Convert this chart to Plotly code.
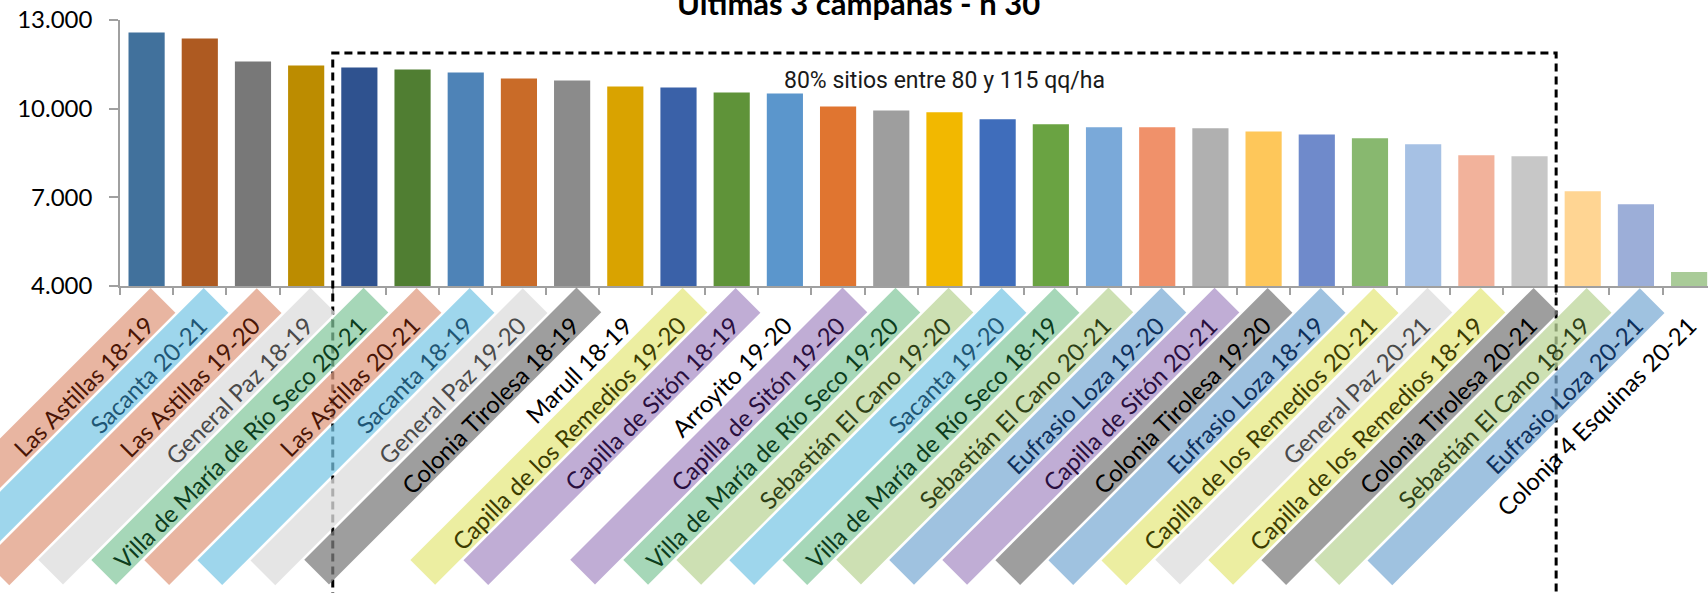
import math
import plotly.graph_objects as go

categories = [
    "Las Astillas 18-19", "Sacanta 20-21", "Las Astillas 19-20", "General Paz 18-19",
    "Villa de María de Río Seco 20-21", "Las Astillas 20-21", "Sacanta 18-19",
    "General Paz 19-20", "Colonia Tirolesa 18-19", "Marull 18-19",
    "Capilla de los Remedios 19-20", "Capilla de Sitón 18-19", "Arroyito 19-20",
    "Capilla de Sitón 19-20", "Villa de María de Río Seco 19-20", "Sebastián El Cano 19-20",
    "Sacanta 19-20", "Villa de María de Río Seco 18-19", "Sebastián El Cano 20-21",
    "Eufrasio Loza 19-20", "Capilla de Sitón 20-21", "Colonia Tirolesa 19-20",
    "Eufrasio Loza 18-19", "Capilla de los Remedios 20-21", "General Paz 20-21",
    "Capilla de los Remedios 18-19", "Colonia Tirolesa 20-21", "Sebastián El Cano 18-19",
    "Eufrasio Loza 20-21", "Colonia 4 Esquinas 20-21",
]

values = [
    12580, 12375, 11600, 11460, 11390, 11325, 11225, 11020, 10955, 10750,
    10715, 10550, 10515, 10075, 9940, 9875, 9640, 9470, 9370, 9370,
    9335, 9230, 9130, 8995, 8795, 8420, 8390, 7205, 6770, 4475,
]

bar_colors = [
    "#41719c", "#ae5a21", "#787878", "#bc8c00", "#2f528f", "#507e32", "#4e83b7",
    "#c96b28", "#8b8b8b", "#d9a300", "#3a61a8", "#5f9339", "#5b96cc", "#e07530",
    "#9e9e9e", "#f2b800", "#3f6dbb", "#6aa342", "#7aa9d9", "#f0916a", "#b0b0b0",
    "#fec75a", "#6f8acb", "#88b86f", "#a6c1e4", "#f2b29b", "#c7c7c7", "#ffd593",
    "#9caed8", "#a9cb98",
]

# label band styles per place name: (band fill, text colour)
band_styles = {
    "Las Astillas": ("rgba(224,156,130,0.75)", "#4a1505"),
    "Sacanta": ("rgba(120,198,228,0.72)", "#1f5675"),
    "General Paz": ("rgba(222,222,222,0.78)", "#4a4a4a"),
    "Villa de María de Río Seco": ("rgba(132,200,156,0.72)", "#0c3d1c"),
    "Colonia Tirolesa": ("rgba(125,125,125,0.75)", "#000000"),
    "Marull": (None, "#000000"),
    "Capilla de los Remedios": ("rgba(230,232,130,0.75)", "#3c3c00"),
    "Capilla de Sitón": ("rgba(176,152,202,0.8)", "#2a0f3f"),
    "Arroyito": (None, "#000000"),
    "Sebastián El Cano": ("rgba(188,214,154,0.75)", "#2e4016"),
    "Eufrasio Loza": ("rgba(122,170,212,0.72)", "#0d2f5c"),
    "Colonia 4 Esquinas": (None, "#000000"),
}

y_ticks = [4000, 7000, 10000, 13000]
box_top_value = 11880
box_first, box_last = 5, 27  # first and last bar (1-based) inside dashed box
x_visible_max = 29.355       # the plot runs slightly past the right edge

BAND_LEN = 385
BAND_T = 35
BAND_XSHIFT, BAND_YSHIFT = -120, -150
TEXT_OFFSET = 5  # text sits slightly toward the lower-right edge of its band
d = TEXT_OFFSET / math.sqrt(2)

fig = go.Figure()
fig.add_trace(go.Bar(
    x=list(range(len(categories))), y=values,
    marker=dict(color=bar_colors, line=dict(width=0)),
    width=0.68, hoverinfo="skip",
))

band_annotations = []
text_annotations = []
for i, cat in enumerate(categories):
    place = cat.rsplit(" ", 1)[0]
    bg, fg = band_styles[place]
    if bg is not None:
        band_annotations.append(dict(
            x=i, xref="x", y=0, yref="paper",
            text="\u00a0", textangle=-45,
            font=dict(family="Lato", size=10, color=fg),
            bgcolor=bg, width=BAND_LEN, height=BAND_T,
            borderpad=0, borderwidth=0,
            showarrow=False, xanchor="center", yanchor="middle",
            xshift=BAND_XSHIFT, yshift=BAND_YSHIFT,
        ))
    text_annotations.append(dict(
        x=i, xref="x", y=0, yref="paper",
        text=cat + "\u00a0" * 4, textangle=-45,
        font=dict(family="Lato", size=24, color=fg),
        width=BAND_LEN, height=BAND_T, align="right", valign="middle",
        borderpad=0, borderwidth=0,
        showarrow=False, xanchor="center", yanchor="middle",
        xshift=BAND_XSHIFT + d, yshift=BAND_YSHIFT - d,
    ))

n = len(categories)
y0r, y1r = y_ticks[0], y_ticks[-1]
box_top_paper = (box_top_value - y0r) / (y1r - y0r)

other_annotations = [
    dict(
        x=15.0, xref="x", y=10950, yref="y",
        text="80% sitios entre 80 y 115 qq/ha", showarrow=False,
        font=dict(family="Liberation Sans Narrow, Roboto", size=23, color="#1a1a1a"),
        xanchor="center", yanchor="middle",
    ),
    dict(
        x=0.465, xref="paper", y=1.0, yref="paper",
        text="<b>Últimas 3 campañas - n 30</b>", showarrow=False,
        font=dict(family="Lato", size=31, color="#000000"),
        xanchor="center", yanchor="bottom", yshift=-4,
    ),
]

fig.add_shape(
    type="rect", xref="x", yref="paper",
    x0=box_first - 1.5, x1=box_last - 0.5,
    y0=-3, y1=box_top_paper,
    line=dict(color="#000000", width=3, dash="8px,5px"),
    fillcolor="rgba(0,0,0,0)", layer="above",
)

fig.update_layout(
    width=1708, height=593,
    margin=dict(l=120, r=0, t=20, b=307, pad=0),
    plot_bgcolor="white", paper_bgcolor="white",
    showlegend=False, separators=",.",
    annotations=band_annotations + text_annotations + other_annotations,
    xaxis=dict(
        range=[-0.5, x_visible_max], showticklabels=False, showgrid=False, zeroline=False,
        showline=True, linecolor="#a0a0a0", linewidth=1.5,
        ticks="outside", ticklen=7, tickcolor="#a0a0a0", tickwidth=1.5,
        tickmode="array", tickvals=[i - 0.5 for i in range(n)],
    ),
    yaxis=dict(
        range=[y0r, y1r], tickvals=y_ticks, tickformat=",d",
        showgrid=False, zeroline=False,
        showline=True, linecolor="#a0a0a0", linewidth=1.5,
        ticks="outside", ticklen=9, tickcolor="#a0a0a0", tickwidth=1.5,
        tickfont=dict(family="Lato", size=24, color="#000000"),
        ticklabelstandoff=12,
    ),
)

fig.write_html(
    "out.html",
    config={"displayModeBar": False},
    post_script="document.body.style.margin='0';document.body.style.overflow='hidden';",
)
